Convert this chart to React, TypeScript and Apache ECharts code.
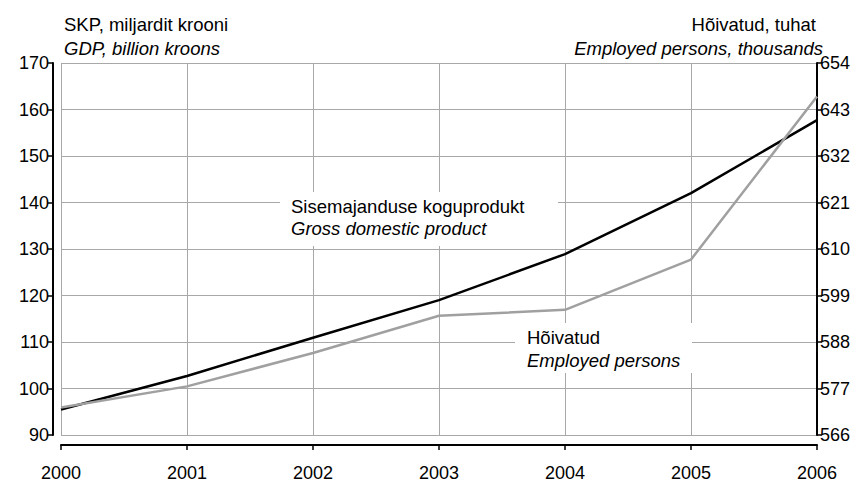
import React, { useEffect, useRef } from "react";
import * as echarts from "echarts";

const years = ["2000", "2001", "2002", "2003", "2004", "2005", "2006"];
const gdp = [95.5, 102.7, 110.9, 119.0, 128.9, 142.0, 157.7];
const employed = [572.5, 577.5, 585.4, 594.2, 595.6, 607.5, 646.1];

const leftTitle = ["SKP, miljardit krooni", "GDP, billion kroons"];
const rightTitle = ["Hõivatud, tuhat", "Employed persons, thousands"];
const gdpLabel = ["Sisemajanduse koguprodukt", "Gross domestic product"];
const empLabel = ["Hõivatud", "Employed persons"];

const FONT = "'Liberation Sans', Arial, sans-serif";
const GRID = "#a8a8a8";

export default function App() {
  const ref = useRef<HTMLDivElement>(null);
  useEffect(() => {
    if (!ref.current) return;
    const chart = echarts.init(ref.current, null, { renderer: "svg" });
    const txt = (x: number, y: number, text: string, italic: boolean, align: string = "left") => ({
      type: "text",
      x,
      y,
      z: 10,
      style: {
        text,
        fill: "#000",
        fontFamily: FONT,
        fontSize: 18.5,
        fontStyle: italic ? "italic" : "normal",
        align,
        verticalAlign: "middle",
      },
    });
    chart.setOption({
      animation: false,
      backgroundColor: "#fff",
      grid: { left: 61, right: 45, top: 63, bottom: 42, containLabel: false },
      xAxis: {
        type: "category",
        data: years,
        boundaryGap: false,
        offset: 10,
        axisLine: { show: true, lineStyle: { color: "#000", width: 2 } },
        axisTick: { show: true, length: 5, lineStyle: { color: "#000", width: 1.5 } },
        axisLabel: { color: "#000", fontFamily: FONT, fontSize: 18, margin: 19 },
        splitLine: { show: true, lineStyle: { color: GRID, width: 1 } },
      },
      yAxis: [
        {
          type: "value",
          position: "left",
          min: 90,
          max: 170,
          interval: 10,
          offset: 8,
          axisLine: { show: true, lineStyle: { color: "#000", width: 2 } },
          axisTick: { show: true, length: 5, lineStyle: { color: "#000", width: 1.5 } },
          axisLabel: { color: "#000", fontFamily: FONT, fontSize: 18, margin: 4 },
          splitLine: { show: true, lineStyle: { color: GRID, width: 1 } },
        },
        {
          type: "value",
          position: "right",
          min: 566,
          max: 654,
          interval: 11,
          axisLine: { show: true, lineStyle: { color: "#000", width: 2 } },
          axisTick: { show: true, length: 5, lineStyle: { color: "#000", width: 1.5 } },
          axisLabel: { color: "#000", fontFamily: FONT, fontSize: 18, margin: 3 },
          splitLine: { show: false },
        },
      ],
      series: [
        {
          type: "line",
          name: "GDP",
          data: gdp,
          yAxisIndex: 0,
          symbol: "none",
          lineStyle: { color: "#000", width: 2.5 },
          z: 3,
        },
        {
          type: "line",
          name: "Employed",
          data: employed,
          yAxisIndex: 1,
          symbol: "none",
          lineStyle: { color: "#a0a0a0", width: 2.5 },
          z: 4,
        },
      ],
      graphic: [
        { type: "rect", z: 9, shape: { x: 280, y: 192, width: 278, height: 54 }, style: { fill: "#fff" } },
        { type: "rect", z: 9, shape: { x: 515, y: 323, width: 177, height: 50 }, style: { fill: "#fff" } },
        txt(64, 24, leftTitle[0], false),
        txt(64, 48, leftTitle[1], true),
        txt(816, 24, rightTitle[0], false, "right"),
        txt(823, 48, rightTitle[1], true, "right"),
        txt(291, 206, gdpLabel[0], false),
        txt(291, 228, gdpLabel[1], true),
        txt(527, 337, empLabel[0], false),
        txt(527, 360, empLabel[1], true),
      ],
    });
    return () => chart.dispose();
  }, []);
  return <div ref={ref} style={{ width: 862, height: 482, position: "absolute", left: 0, top: 0 }} />;
}
